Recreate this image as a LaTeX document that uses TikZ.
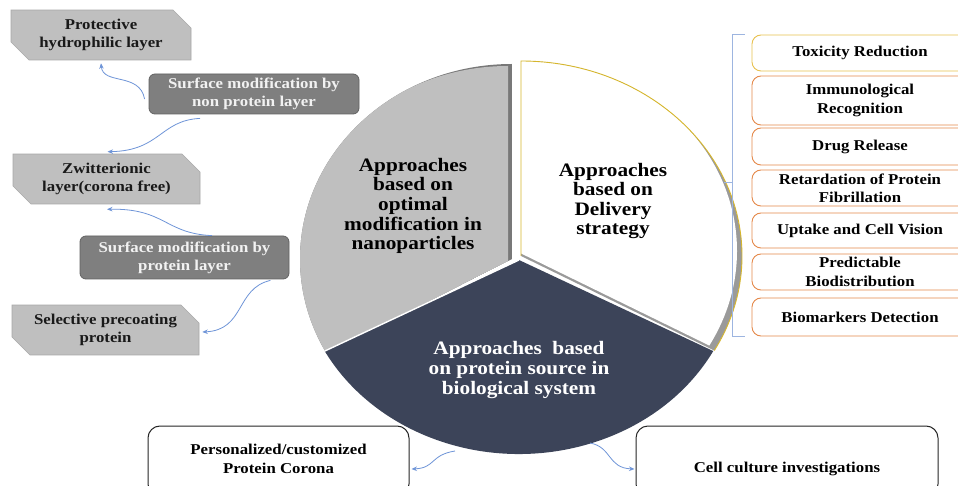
\documentclass[tikz,border=0pt]{standalone}
\usepackage{fontspec}
\setmainfont{Liberation Serif}[FakeStretch=1.12]
\usetikzlibrary{arrows.meta,shapes.misc}
\definecolor{lgray}{HTML}{BFBFBF}
\definecolor{lgrayline}{HTML}{A8A8A8}
\definecolor{dgray}{HTML}{7F7F7F}
\definecolor{dgrayline}{HTML}{626262}
\definecolor{navy}{HTML}{3C4459}
\definecolor{orangeline}{HTML}{E5894A}
\definecolor{goldline}{HTML}{E8C14F}
\definecolor{piegold}{HTML}{D6B62C}
\definecolor{arrowblue}{HTML}{6F95D8}
\definecolor{bracketblue}{HTML}{9DB5E0}
\definecolor{shadowgray}{HTML}{9A9A9A}
\definecolor{gshadow}{HTML}{787878}
\tikzset{
  txt/.style={font=\bfseries\fontsize{15}{18.3}\selectfont, align=center, inner sep=0pt},
  pielabel/.style={font=\bfseries\fontsize{19}{19.6}\selectfont, align=center, inner sep=0pt},
  snipbox/.style={txt, chamfered rectangle, chamfered rectangle xsep=9pt, chamfered rectangle ysep=9pt,
     chamfered rectangle corners={north east,south west}, fill=lgray, draw=lgrayline, line width=0.6pt, text=black!90},
  darkbox/.style={txt, rectangle, rounded corners=6pt, fill=dgray, draw=dgrayline, line width=0.8pt, text=white!95!black},
  rbox/.style={txt, rectangle, rounded corners=9pt, fill=white, draw=orangeline, line width=0.9pt, minimum width=216pt},
  bbox/.style={txt, rectangle, rounded corners=12pt, fill=white, draw=black!85, line width=1pt, minimum height=70pt},
  arr/.style={draw=arrowblue, line width=0.8pt, -{Stealth[length=5.5pt,width=4.5pt]}},
}
\begin{document}
\begin{tikzpicture}[x=1pt,y=1pt]
\clip (0,0) rectangle (958,-486);
\fill[white] (0,0) rectangle (958,-486);

% ---------- pie ----------
% gray slice
\begin{scope}
  \clip (512,-259) -- +(90:212 and 195) arc[start angle=90,end angle=209,x radius=212,y radius=195] -- cycle;
  \fill[gshadow] (512,-259) -- +(90:212 and 195) arc[start angle=90,end angle=209,x radius=212,y radius=195] -- cycle;
  \fill[lgray] (508,-261) -- +(90:212 and 195) arc[start angle=90,end angle=209,x radius=212,y radius=195] -- cycle;
\end{scope}
% white slice
\begin{scope}
  \clip (521,-256) -- +(90:221 and 195) arc[start angle=90,end angle=-29,x radius=221,y radius=195] -- cycle;
  \fill[shadowgray] (521,-256) -- +(90:221 and 195) arc[start angle=90,end angle=-29,x radius=221,y radius=195] -- cycle;
  \fill[white] (516,-251) -- +(90:221 and 195) arc[start angle=90,end angle=-29,x radius=221,y radius=195] -- cycle;
\end{scope}
\draw[piegold, line width=0.9pt] (521,-256) -- +(90:221 and 195) arc[start angle=90,end angle=-29,x radius=221,y radius=195];
% dark slice
\fill[navy] (519,-260) -- +(-28:220 and 194) arc[start angle=-28,end angle=-152,x radius=220,y radius=194] -- cycle;
\draw[white, line width=1.4pt] (519,-260) -- +(-152:220 and 194);

\node[pielabel] (tg) at (413,-206) {Approaches\\based on\\optimal\\modification in\\nanoparticles};
\node[pielabel] (tw) at (613,-201) {Approaches\\based on\\Delivery\\strategy};
\node[pielabel, text=white] (td) at (519,-370) {Approaches~~based\\on protein source in\\biological system};

% ---------- left boxes ----------
\node[snipbox, minimum width=180pt, minimum height=48pt] (b1) at (101,-35) {Protective\\hydrophilic layer};
\node[snipbox, minimum width=187pt, minimum height=48pt] (b2) at (106.5,-179) {Zwitterionic\\layer(corona free)};
\node[snipbox, minimum width=187pt, minimum height=48pt] (b3) at (105.5,-330) {Selective precoating\\protein};
\node[darkbox, minimum width=210pt, minimum height=40pt] (bA) at (254,-94) {Surface modification by\\non protein layer};
\node[darkbox, minimum width=209pt, minimum height=43pt] (bB) at (184.5,-257.5) {Surface modification by\\protein layer};

\draw[arr] ([shift={(-4,-5)}]bA.west) .. controls +(-5,27) and +(2,-22) .. ([yshift=-3pt]b1.south);
\draw[arr] ([shift={(-54,-4)}]bA.south) .. controls +(-40,-2) and +(53,1) .. ([shift={(1,2)}]b2.north);
\draw[arr] ([xshift=27.5pt]bB.north) .. controls +(-47,2) and +(58,1) .. ([shift={(0.5,-5)}]b2.south);
\draw[arr] ([shift={(-19,-1)}]bB.south east) .. controls +(-35,-8) and +(43,2) .. ([shift={(3,-2)}]b3.east);

% ---------- right boxes ----------
\node[rbox, draw=goldline, minimum height=36pt] (r1) at (860,-53) {Toxicity Reduction};
\node[rbox, minimum height=49pt] (r2) at (860,-100.5) {Immunological\\Recognition};
\node[rbox, minimum height=37pt] (r3) at (860,-146.5) {Drug Release};
\node[rbox, minimum height=36pt] (r4) at (860,-188) {Retardation of Protein\\Fibrillation};
\node[rbox, minimum height=35pt] (r5) at (860,-230.5) {Uptake and Cell Vision};
\node[rbox, minimum height=36pt] (r6) at (860,-272) {Predictable\\Biodistribution};
\node[rbox, minimum height=38pt] (r7) at (860,-317) {Biomarkers Detection};

\draw[bracketblue, line width=0.9pt] ([xshift=-7pt]r1.north west) -- ++(-12,0) coordinate (brt) -- (brt |- r7.south) -- ([xshift=-7pt]r7.south west);
\draw[bracketblue, line width=0.9pt] (brt |- 0,-182) -- ++(-9,0);

% ---------- bottom boxes ----------
\node[bbox, minimum width=261pt] (bl) at (278.5,-461) {};
\node[txt] (blt) at (278.5,-459) {Personalized/customized\\Protein Corona};
\node[bbox, minimum width=302pt] (br) at (787,-461) {};
\node[txt, anchor=base] (brt2) at (787,-472) {Cell culture investigations};

\coordinate (pb1) at (455,-451);
\coordinate (pb2) at (590,-443);
\draw[arr] (pb1) .. controls +(-25,-4) and +(24,1) .. ([shift={(2,-8)}]bl.east);
\draw[arr] (pb2) .. controls +(22,-4) and +(-27,1) .. ([shift={(-1,-8)}]br.west);
\end{tikzpicture}
\end{document}
